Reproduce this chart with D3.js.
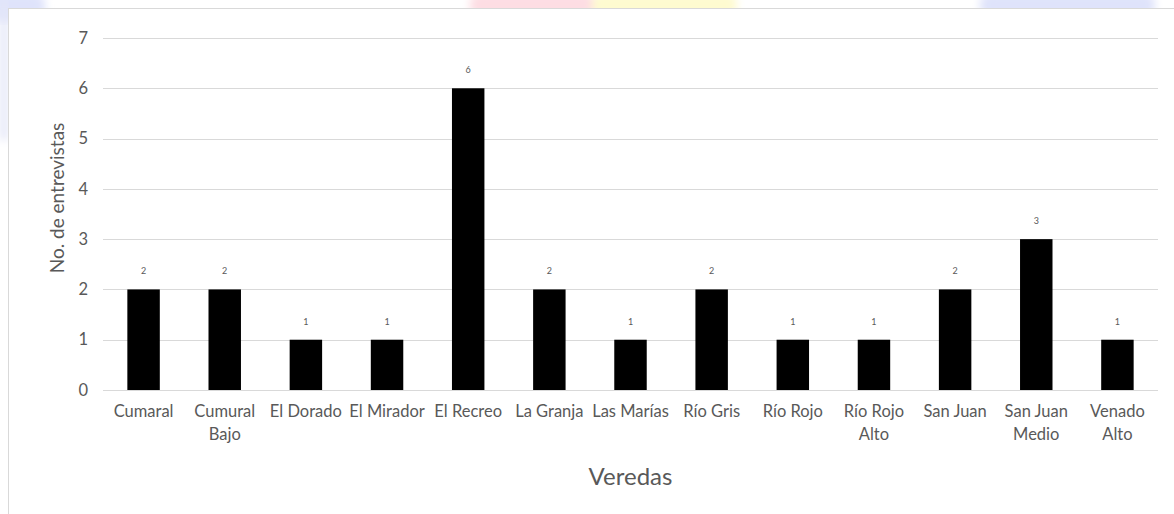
<!DOCTYPE html>
<html>
<head>
<meta charset="utf-8">
<script src="https://cdn.jsdelivr.net/npm/d3@7"></script>
<style>
  body { margin: 0; background: #fff; }
  text { font-family: Lato, "Open Sans", sans-serif; fill: #595959; }
</style>
</head>
<body>
<script>
// data
var veredas = ["Cumaral", "Cumural Bajo", "El Dorado", "El Mirador", "El Recreo", "La Granja",
  "Las Marías", "Río Gris", "Río Rojo", "Río Rojo Alto", "San Juan", "San Juan Medio", "Venado Alto"]
var entrevistas = [2, 2, 1, 1, 6, 2, 1, 2, 1, 1, 2, 3, 1]
var yTicks = [0, 1, 2, 3, 4, 5, 6, 7]

// faded logo colours behind the chart frame
var washes = [
  { x: -10, w: 55, h: 30, c: "#dfe3fb" },
  { x: 470, w: 125, h: 26, c: "#fddde3" },
  { x: 592, w: 145, h: 26, c: "#fefbd0" },
  { x: 980, w: 175, h: 26, c: "#dfe3fb" }
]

var W = 1174, H = 514
var margin = { top: 38, right: 16, bottom: 124, left: 103 },
  width = W - margin.left - margin.right,
  height = H - margin.top - margin.bottom

var svg = d3.select("body").append("svg")
  .attr("width", W)
  .attr("height", H)

var defs = svg.append("defs")
defs.append("filter").attr("id", "soft")
  .append("feGaussianBlur").attr("stdDeviation", 4)

svg.append("g").attr("filter", "url(#soft)")
  .selectAll("rect").data(washes).enter().append("rect")
  .attr("x", function(d) { return d.x })
  .attr("y", -8)
  .attr("width", function(d) { return d.w })
  .attr("height", function(d) { return d.h })
  .attr("rx", 12)
  .attr("fill", function(d) { return d.c })

// left strip of the logo wash
svg.append("rect").attr("x", 0).attr("y", 0).attr("width", 8).attr("height", 140)
  .attr("fill", "#e4e7f8").attr("filter", "url(#soft)")

// chart frame
svg.append("rect")
  .attr("x", 8.5).attr("y", 8.5)
  .attr("width", W).attr("height", H)
  .attr("fill", "#fff")
  .attr("stroke", "#d9d9d9")

var g = svg.append("g")
  .attr("transform", "translate(" + margin.left + "," + margin.top + ")")

var x = d3.scaleBand()
  .domain(veredas)
  .range([0, width])
  .paddingInner(0.6)
  .paddingOuter(0.3)

var y = d3.scaleLinear()
  .domain([0, 7])
  .range([height, 0])

// gridlines
g.append("g")
  .selectAll("line").data(yTicks).enter().append("line")
  .attr("x1", 0).attr("x2", width)
  .attr("y1", function(d) { return Math.round(y(d)) + 0.5 })
  .attr("y2", function(d) { return Math.round(y(d)) + 0.5 })
  .attr("stroke", "#d9d9d9")
  .attr("stroke-width", 1.2)

// y axis labels
var yAxis = d3.axisLeft(y).tickValues(yTicks).tickFormat(d3.format("d"))
  .tickSize(0).tickPadding(15)
g.append("g").attr("class", "y axis").call(yAxis)
  .call(function(a) { a.select(".domain").remove() })
  .selectAll("text").style("font-size", "16.5px").attr("fill", "#595959")

// bars
g.append("g").selectAll("rect")
  .data(veredas).enter().append("rect")
  .attr("x", function(d) { return x(d) })
  .attr("y", function(d, i) { return y(entrevistas[i]) })
  .attr("width", x.bandwidth())
  .attr("height", function(d, i) { return height - y(entrevistas[i]) })
  .attr("fill", "#000")

// value labels
g.append("g").selectAll("text")
  .data(veredas).enter().append("text")
  .attr("x", function(d) { return x(d) + x.bandwidth() / 2 })
  .attr("y", function(d, i) { return y(entrevistas[i]) - 15 })
  .attr("text-anchor", "middle")
  .style("font-size", "9px")
  .text(function(d, i) { return entrevistas[i] })

// x axis labels, wrapped onto two lines like the original
var xAxis = d3.axisBottom(x).tickSize(0).tickPadding(15)
var xg = g.append("g").attr("class", "x axis")
  .attr("transform", "translate(0," + height + ")")
  .call(xAxis)
xg.select(".domain").remove()
xg.selectAll("text").style("font-size", "16.5px").attr("fill", "#595959")
  .each(function(d) {
    var t = d3.select(this)
    var parts = d.split(" ")
    var lines = [d]
    if (d.length > 10 && parts.length > 1) {
      lines = [parts.slice(0, -1).join(" "), parts[parts.length - 1]]
    }
    if (lines.length > 1) {
      t.text(null)
      lines.forEach(function(l, i) {
        t.append("tspan").attr("x", 0).attr("dy", i == 0 ? "0.71em" : "1.4em").text(l)
      })
    }
  })

// axis titles
g.append("text")
  .attr("x", width / 2)
  .attr("y", height + 95)
  .attr("text-anchor", "middle")
  .style("font-size", "24px")
  .text("Veredas")

g.append("text")
  .attr("transform", "translate(-39,160) rotate(-90)")
  .attr("text-anchor", "middle")
  .style("font-size", "19px")
  .text("No. de entrevistas")
</script>
</body>
</html>
